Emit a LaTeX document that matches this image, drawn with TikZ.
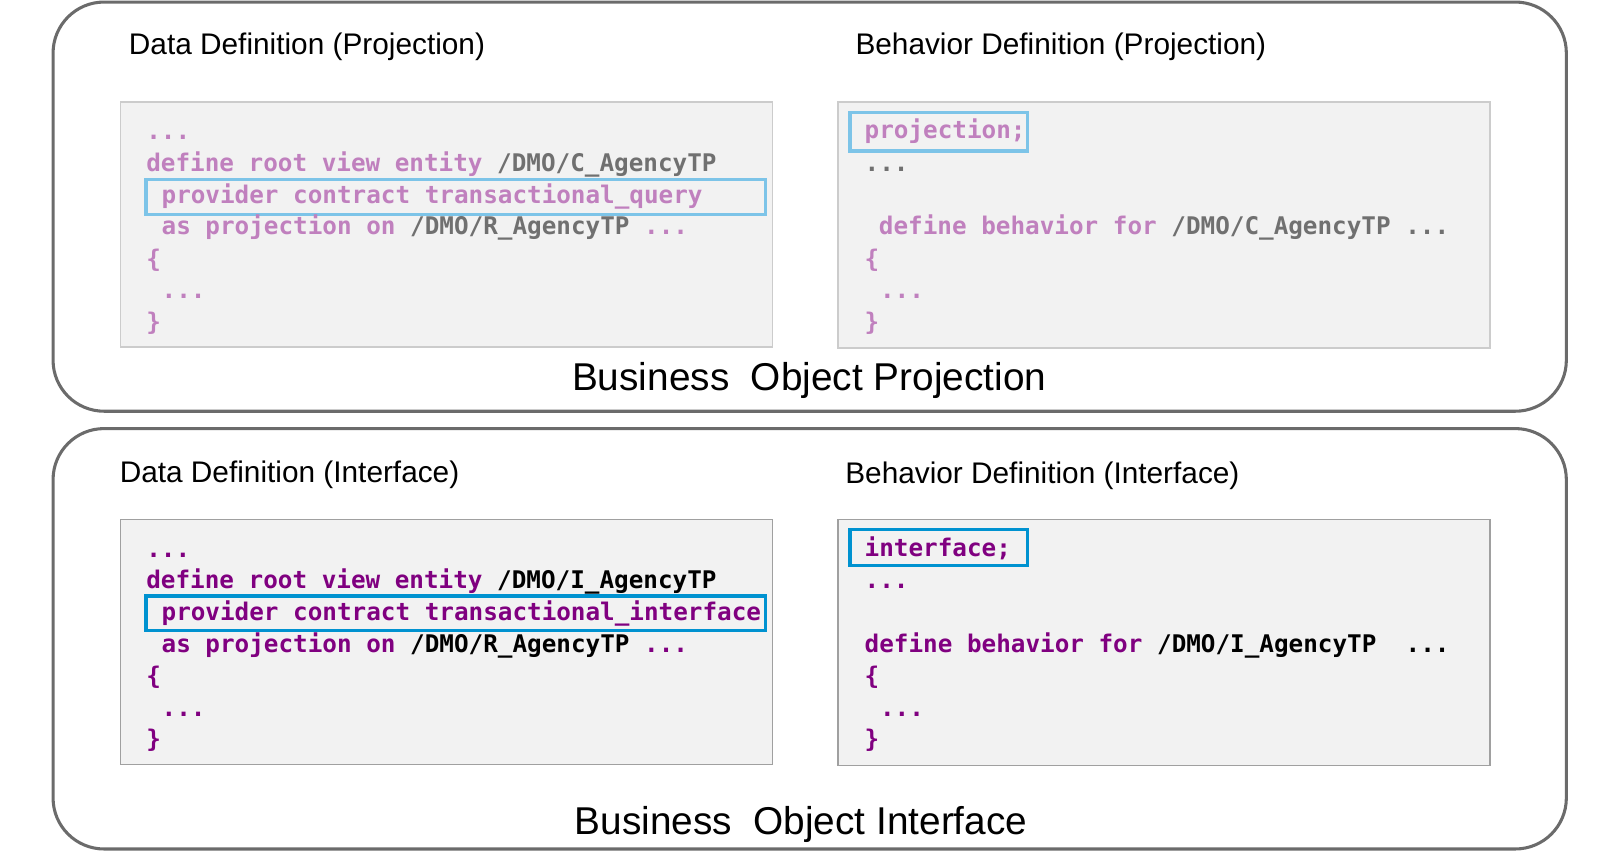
\documentclass[tikz,border=0pt]{standalone}
\usepackage{fontspec}
\setmainfont{Liberation Sans}
\newfontfamily\codefont{DejaVu Sans Mono}
\usetikzlibrary{fit}

\definecolor{framegray}{RGB}{107,107,107}
\definecolor{codebg}{RGB}{242,242,242}
\definecolor{projframe}{RGB}{204,204,204}
\definecolor{ifframe}{RGB}{160,160,160}
\definecolor{projkey}{RGB}{192,128,190}
\definecolor{projpath}{RGB}{112,112,112}
\definecolor{projhl}{RGB}{125,196,232}
\definecolor{ifkey}{RGB}{128,0,128}
\definecolor{ifhl}{RGB}{0,146,208}

\begin{document}
\begin{tikzpicture}[x=0.5pt, y=-0.5pt,
  outerbox/.style={draw=framegray, line width=1.5pt, rounded corners=25pt, inner sep=0pt},
  codebox/.style={fill=codebg, line width=0.75pt, inner sep=0pt},
  hlbox/.style={line width=1.7pt, inner sep=0pt},
  heading/.style={anchor=west, inner sep=0pt, font=\fontsize{14.6}{17}\selectfont},
  bigheading/.style={inner sep=0pt, font=\fontsize{19}{23}\selectfont},
  code/.style={anchor=base west, inner sep=0pt, font=\codefont\bfseries\fontsize{11.9}{14}\selectfont},
  projcode/.style={code, text=projkey},
  ifcode/.style={code, text=ifkey}]

\useasboundingbox (0,0) rectangle (1568,835);

% outer frames
\node[outerbox, fit={(52,2) (1535,403)}] (projbox) {};
\node[outerbox, fit={(52,420) (1535,832)}] (ifbox) {};

% headings
\node[heading] (ddptitle) at (126,46) {Data Definition (Projection)};
\node[heading] (bdptitle) at (838,46) {Behavior Definition (Projection)};
\node[heading] (ddititle) at (117,465) {Data Definition (Interface)};
\node[heading] (bdititle) at (828,466) {Behavior Definition (Interface)};
\node[bigheading] (projname) at (793,373) {Business\ \ Object Projection};
\node[bigheading] (ifname) at (785,808) {Business\ \ Object Interface};

% code boxes
\node[codebox, draw=projframe, fit={(118,100) (757,340)}] (ddp) {};
\node[codebox, draw=projframe, fit={(821,100) (1460,341)}] (bdp) {};
\node[codebox, draw=ifframe, fit={(118,509) (757,749)}] (ddi) {};
\node[codebox, draw=ifframe, fit={(821,509) (1460,750)}] (bdi) {};

% highlights
\node[hlbox, draw=projhl, fit={(143,176) (750,210)}] (ddphl) {};
\node[hlbox, draw=projhl, fit={(833,110) (1007,148)}] (bdphl) {};
\node[hlbox, draw=ifhl, fit={(143,584) (750,618)}] (ddihl) {};
\node[hlbox, draw=ifhl, fit={(833,519) (1007,554)}] (bdihl) {};

% projection data definition
\node[projcode] (ddp1) at (143,137) {...};
\node[projcode] (ddp2) at (143,168) {define root view entity \textcolor{projpath}{/DMO/C\_AgencyTP}};
\node[projcode] (ddp3) at (158,199) {provider contract transactional\_query};
\node[projcode] (ddp4) at (158,230) {as projection on \textcolor{projpath}{/DMO/R\_AgencyTP} ...};
\node[projcode] (ddp5) at (143,262) {\{};
\node[projcode] (ddp6) at (158,293) {...};
\node[projcode] (ddp7) at (143,324) {\}};

% projection behavior definition
\node[projcode] (bdp1) at (847,136) {projection;};
\node[projcode, text=projpath] (bdp2) at (847,168) {...};
\node[projcode] (bdp3) at (861,230) {define behavior for \textcolor{projpath}{/DMO/C\_AgencyTP ...}};
\node[projcode] (bdp4) at (847,262) {\{};
\node[projcode] (bdp5) at (862,293) {...};
\node[projcode] (bdp6) at (847,324) {\}};

% interface data definition
\node[ifcode] (ddi1) at (143,546) {...};
\node[ifcode] (ddi2) at (143,577) {define root view entity \textcolor{black}{/DMO/I\_AgencyTP}};
\node[ifcode] (ddi3) at (158,608) {provider contract transactional\_interface};
\node[ifcode] (ddi4) at (158,639) {as projection on \textcolor{black}{/DMO/R\_AgencyTP} ...};
\node[ifcode] (ddi5) at (143,671) {\{};
\node[ifcode] (ddi6) at (158,702) {...};
\node[ifcode] (ddi7) at (143,733) {\}};

% interface behavior definition
\node[ifcode] (bdi1) at (847,545) {interface;};
\node[ifcode] (bdi2) at (847,577) {...};
\node[ifcode] (bdi3) at (847,639) {define behavior for \textcolor{black}{/DMO/I\_AgencyTP\ \ ...}};
\node[ifcode] (bdi4) at (847,671) {\{};
\node[ifcode] (bdi5) at (862,702) {...};
\node[ifcode] (bdi6) at (847,733) {\}};
\end{tikzpicture}
\end{document}
